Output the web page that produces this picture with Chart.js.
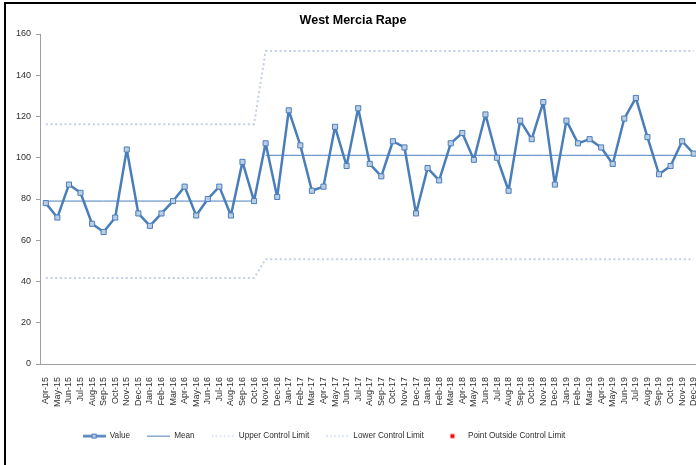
<!DOCTYPE html>
<html><head><meta charset="utf-8">
<script src="https://cdn.jsdelivr.net/npm/chart.js@4.4.1/dist/chart.umd.min.js"></script>
<style>
html,body{margin:0;padding:0;background:#fff;overflow:hidden;width:696px;height:465px;}
#frame{position:absolute;left:4px;top:2px;width:800px;height:600px;border-left:2px solid #000;border-top:2px solid #000;box-sizing:border-box;}
#wrap{position:absolute;left:0;top:0;width:710px;height:465px;}
</style></head><body>
<div id="frame"></div>
<div id="wrap"><canvas id="c" width="710" height="465"></canvas></div>
<script>
const chartTitle = 'West Mercia Rape';
const months = ['Apr-15','May-15','Jun-15','Jul-15','Aug-15','Sep-15','Oct-15','Nov-15','Dec-15',
  'Jan-16','Feb-16','Mar-16','Apr-16','May-16','Jun-16','Jul-16','Aug-16','Sep-16','Oct-16','Nov-16','Dec-16',
  'Jan-17','Feb-17','Mar-17','Apr-17','May-17','Jun-17','Jul-17','Aug-17','Sep-17','Oct-17','Nov-17','Dec-17',
  'Jan-18','Feb-18','Mar-18','Apr-18','May-18','Jun-18','Jul-18','Aug-18','Sep-18','Oct-18','Nov-18','Dec-18',
  'Jan-19','Feb-19','Mar-19','Apr-19','May-19','Jun-19','Jul-19','Aug-19','Sep-19','Oct-19','Nov-19','Dec-19'];
const values = [78,71,87,83,68,64,71,104,73,
  67,73,79,86,72,80,86,72,98,79,107,81,
  123,106,84,86,115,96,124,97,91,108,105,73,
  95,89,107,112,99,121,100,84,118,109,127,87,
  118,107,109,105,97,119,129,110,92,96,108,102];
const meanLine = [79,79,79,79,79,79,79,79,79,
  79,79,79,79,79,79,79,79,79,79,101.2,101.2,
  101.2,101.2,101.2,101.2,101.2,101.2,101.2,101.2,101.2,101.2,101.2,101.2,
  101.2,101.2,101.2,101.2,101.2,101.2,101.2,101.2,101.2,101.2,101.2,101.2,
  101.2,101.2,101.2,101.2,101.2,101.2,101.2,101.2,101.2,101.2,101.2,101.2];
const upperLimit = [116.3,116.3,116.3,116.3,116.3,116.3,116.3,116.3,116.3,
  116.3,116.3,116.3,116.3,116.3,116.3,116.3,116.3,116.3,116.3,151.7,151.7,
  151.7,151.7,151.7,151.7,151.7,151.7,151.7,151.7,151.7,151.7,151.7,151.7,
  151.7,151.7,151.7,151.7,151.7,151.7,151.7,151.7,151.7,151.7,151.7,151.7,
  151.7,151.7,151.7,151.7,151.7,151.7,151.7,151.7,151.7,151.7,151.7,151.7];
const lowerLimit = [41.7,41.7,41.7,41.7,41.7,41.7,41.7,41.7,41.7,
  41.7,41.7,41.7,41.7,41.7,41.7,41.7,41.7,41.7,41.7,50.8,50.8,
  50.8,50.8,50.8,50.8,50.8,50.8,50.8,50.8,50.8,50.8,50.8,50.8,
  50.8,50.8,50.8,50.8,50.8,50.8,50.8,50.8,50.8,50.8,50.8,50.8,
  50.8,50.8,50.8,50.8,50.8,50.8,50.8,50.8,50.8,50.8,50.8,50.8];
const outsidePoints = [];
const yTicks = [0,20,40,60,80,100,120,140,160];
const seriesNames = ['Value','Mean','Upper Control Limit','Lower Control Limit','Point Outside Control Limit'];

const BLUE = '#4A7EBB', MARK = '#B9CDE5', LIMIT = '#C3D0E4', TXT = '#2E2E2E';
Chart.defaults.font.family = '"Liberation Sans", Arial, sans-serif';

function icon(draw){
  const c = document.createElement('canvas'); c.width = 23; c.height = 9;
  const g = c.getContext('2d'); draw(g); return c;
}
const icons = [
  icon(g=>{ g.strokeStyle=BLUE; g.lineWidth=2.5; g.beginPath(); g.moveTo(0,4.5); g.lineTo(23,4.5); g.stroke();
            g.fillStyle=MARK; g.fillRect(9,2,5,5); g.strokeStyle=BLUE; g.lineWidth=1; g.strokeRect(9.5,2.5,4,4); }),
  icon(g=>{ g.strokeStyle=BLUE; g.lineWidth=1; g.beginPath(); g.moveTo(0,4.5); g.lineTo(23,4.5); g.stroke(); }),
  icon(g=>{ g.strokeStyle=LIMIT; g.lineWidth=1.5; g.setLineDash([1.5,2.5]); g.beginPath(); g.moveTo(0,4.5); g.lineTo(23,4.5); g.stroke(); }),
  icon(g=>{ g.strokeStyle=LIMIT; g.lineWidth=1.5; g.setLineDash([1.5,2.5]); g.beginPath(); g.moveTo(0,4.5); g.lineTo(23,4.5); g.stroke(); }),
  icon(g=>{ g.fillStyle='#FF0000'; g.fillRect(9.5,2.5,4,4); })
];

const legendShift = {
  id: 'legendShift',
  afterLayout(chart){ const l = chart.legend; if(l){ l.left = 0; l.right = 648; l.width = 648; } }
};

new Chart(document.getElementById('c'), {
  type: 'line',
  data: {
    labels: months,
    datasets: [
      { label: seriesNames[0], data: values, borderColor: BLUE, borderWidth: 2.5, borderJoinStyle: 'round',
        borderCapStyle: 'round', pointStyle: 'rect',
        pointRadius: 3.6, pointBackgroundColor: MARK, pointBorderColor: BLUE, pointBorderWidth: 1, tension: 0 },
      { label: seriesNames[1], data: meanLine, borderColor: BLUE, borderWidth: 1, pointRadius: 0,
        segment: { borderColor: ctx => ctx.p0.parsed.y !== ctx.p1.parsed.y ? 'rgba(0,0,0,0)' : undefined } },
      { label: seriesNames[2], data: upperLimit, borderColor: LIMIT, borderWidth: 2, borderDash: [2,2.7], pointRadius: 0 },
      { label: seriesNames[3], data: lowerLimit, borderColor: LIMIT, borderWidth: 2, borderDash: [2,2.7], pointRadius: 0 },
      { label: seriesNames[4], data: outsidePoints, borderColor: '#FF0000', backgroundColor: '#FF0000', showLine: false,
        pointStyle: 'rect', pointRadius: 3 }
    ]
  },
  options: {
    responsive: false, animation: false,
    layout: { padding: { left: 6.5, right: 10.5, top: 0, bottom: 14.8 } },
    plugins: {
      title: { display: true, text: chartTitle, color: '#000', font: { size: 12.5, weight: 'bold' },
               padding: { top: 13, bottom: 6 } },
      legend: { position: 'bottom',
        labels: { usePointStyle: true, pointStyleWidth: 23, boxHeight: 8.2, padding: 17, color: TXT,
          font: { size: 8.2 },
          generateLabels: (chart) => chart.data.datasets.map((ds, i) => ({
            text: ds.label, pointStyle: icons[i], datasetIndex: i, hidden: false,
            lineWidth: 0, fillStyle: 'rgba(0,0,0,0)', strokeStyle: 'rgba(0,0,0,0)', fontColor: TXT })) } },
      tooltip: { enabled: false }
    },
    scales: {
      x: { type: 'category', offset: true,
        grid: { display: false }, border: { display: true, color: '#A0A0A0', width: 1 },
        ticks: { autoSkip: false, minRotation: 90, maxRotation: 90, padding: 5, color: TXT, font: { size: 9 } },
        afterFit: s => { s.height = 51; } },
      y: { min: 0, max: 160,
        afterBuildTicks: s => { s.ticks = yTicks.map(v => ({ value: v })); },
        grid: { display: true, drawOnChartArea: false, drawTicks: true, tickLength: 4, color: '#A0A0A0' },
        border: { display: true, color: '#A0A0A0', width: 1 },
        ticks: { padding: 5, color: TXT, font: { size: 9 } },
        afterFit: s => { s.width = 33.5; } }
    }
  },
  plugins: [legendShift]
});
</script>
</body></html>
